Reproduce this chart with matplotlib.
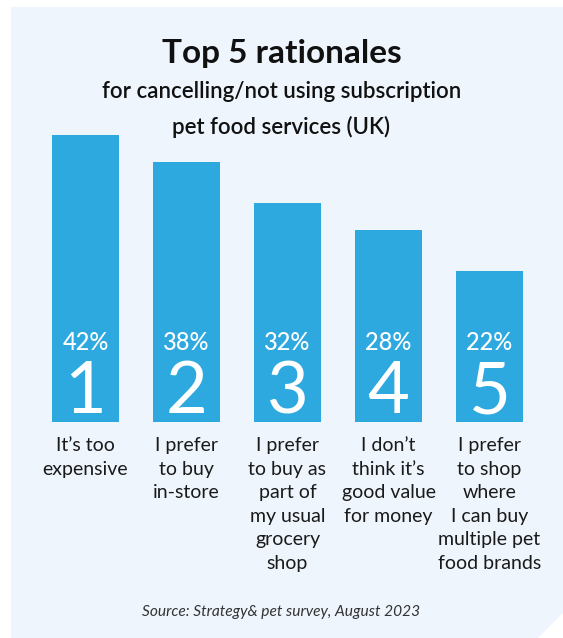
import matplotlib.pyplot as plt
from matplotlib.patches import Polygon
from matplotlib.transforms import blended_transform_factory

ranks = ["1", "2", "3", "4", "5"]
shares = [42, 38, 32, 28, 22]
reasons = [
    "It\u2019s too\nexpensive",
    "I prefer\nto buy\nin-store",
    "I prefer\nto buy as\npart of\nmy usual\ngrocery\nshop",
    "I don\u2019t\nthink it\u2019s\ngood value\nfor money",
    "I prefer\nto shop\nwhere\nI can buy\nmultiple pet\nfood brands",
]

W, H = 563, 638
plt.rcParams["font.family"] = ["Lato", "DejaVu Sans"]

fig = plt.figure(figsize=(W / 100, H / 100), dpi=100)
fig.patch.set_facecolor("white")

# card background with clipped bottom-right corner
card = Polygon([(11 / W, 1 - 7 / H), (1, 1 - 7 / H), (1, 1 - 613 / H),
                (538 / W, 0), (11 / W, 0)],
               closed=True, transform=fig.transFigure,
               facecolor="#eef5fd", edgecolor="none", zorder=-5)
fig.patches.append(card)

ax = fig.add_axes([35 / W, 1 - 422 / H, 505 / W, 308 / H])
ax.set_facecolor("none")
x = list(range(len(shares)))
ax.bar(x, shares, width=0.663, color="#2ea9e0", zorder=2)
ax.set_xlim(-0.5, 4.5)
ax.set_ylim(0, 45)
ax.axis("off")

for xi, s, r in zip(x, shares, ranks):
    ax.text(xi, 10.5, f"{s}%", ha="center", va="baseline", color="white",
            fontsize=17, fontweight="medium", zorder=3)
    ax.text(xi, 1.3, r, ha="center", va="baseline", color="white",
            fontsize=52, zorder=3)

tr = blended_transform_factory(ax.transData, fig.transFigure)
for xi, lab in zip(x, reasons):
    fig.text(xi, 1 - 437 / H, lab, transform=tr, ha="center", va="top",
             fontsize=14, color="#1a1a1a", linespacing=1.47)

fig.text(0.5, 1 - 63 / H, "Top 5 rationales", ha="center", va="baseline",
         fontsize=24, fontweight="bold", color="#111111")
fig.text(0.5, 1 - 98 / H, "for cancelling/not using subscription",
         ha="center", va="baseline", fontsize=16, fontweight="semibold",
         color="#111111")
fig.text(0.5, 1 - 134 / H, "pet food services (UK)",
         ha="center", va="baseline", fontsize=16, fontweight="semibold",
         color="#111111")

fig.text(0.5, 1 - 612 / H, "Source: Strategy& pet survey, August 2023",
         ha="center", va="center", fontsize=11.2, style="italic",
         color="#333333")

fig.savefig("out.png", dpi=100)
